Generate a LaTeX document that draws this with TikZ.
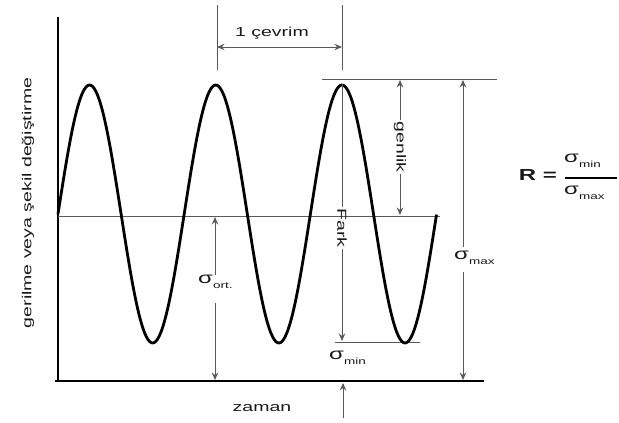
\documentclass[tikz,border=0pt]{standalone}
\usepackage{fontspec}
\setmainfont{Liberation Sans}[FakeStretch=1.5]
\usetikzlibrary{arrows.meta}
\newcommand{\sgm}[1]{{\fontsize{16}{18}\selectfont σ}\raisebox{-0.45em}{\fontsize{9}{10}\selectfont #1}}
\begin{document}
\begin{tikzpicture}[x=1pt,y=-1pt,
  thinline/.style={draw=black!65, line width=1pt},
  arr/.style={thinline,-{Stealth[length=7.5pt,width=6.5pt,inset=2.5pt]}},
  dblarr/.style={thinline,{Stealth[length=7.5pt,width=6.5pt,inset=2.5pt]}-{Stealth[length=7.5pt,width=6.5pt,inset=2.5pt]}},
  axis/.style={line width=2.6pt, draw=black},
  wave/.style={line width=2.8pt, draw=black, line join=round},
  lab/.style={font=\fontsize{13}{15}\selectfont, text=black!90, inner sep=1pt},
  sig/.style={text=black!90, inner sep=1pt}]
\useasboundingbox (0,0) rectangle (619,423);
% axes
\coordinate (Ytop) at (58,17);
\coordinate (O) at (58,381);
\coordinate (Xl) at (55,381);
\coordinate (Xr) at (484,381);
\draw[axis] (Ytop) -- (O);
\draw[axis] (Xl) -- (Xr);
% reference lines
\coordinate (ml) at (58,216);
\coordinate (mr) at (440,216);
\draw[thinline] (ml) -- (mr);
\coordinate (pkl) at (322,79);
\coordinate (pkr) at (497,79);
\draw[thinline] (pkl) -- (pkr);
\coordinate (trl) at (335,342);
\coordinate (trr) at (420,342);
\draw[thinline] (trl) -- (trr);
% wave
\draw[wave] plot[domain=0:3,samples=241,smooth] ({58+126.2*\x},{214-129*sin(360*\x)});
% one cycle
\coordinate (c1t) at (217,5);
\coordinate (c1b) at (217,70);
\coordinate (c2t) at (342,5);
\coordinate (c2b) at (342,70);
\draw[thinline] (c1t) -- (c1b);
\draw[thinline] (c2t) -- (c2b);
\coordinate (c1m) at (217,47);
\coordinate (c2m) at (342,47);
\draw[dblarr] (c1m) -- (c2m);
\node[lab] (cev) at (272,33) {1 çevrim};
% genlik
\node[lab, rotate=-90] (gen) at (400,147) {genlik};
\coordinate (gent) at (400,80);
\coordinate (genb) at (400,215);
\draw[arr] (gen.west) -- (gent);
\draw[arr] (gen.east) -- (genb);
% Fark
\node[lab, rotate=-90] (fark) at (342,228) {Fark};
\coordinate (farkt) at (342,84);
\coordinate (farkb) at (342,341);
\draw[thinline] (fark.west) -- (farkt);
\draw[arr] (fark.east) -- (farkb);
% sigma max
\node[sig, anchor=west] (smax) at (453,258) {\sgm{max}};
\coordinate (smt) at (463,80);
\coordinate (smb) at (463,380);
\coordinate (smg1) at (463,247);
\coordinate (smg2) at (463,272);
\draw[arr] (smg1) -- (smt);
\draw[arr] (smg2) -- (smb);
% sigma ort
\node[sig, anchor=west] (sort) at (197,282) {\sgm{ort.}};
\coordinate (sot) at (215,217);
\coordinate (sob) at (215,380);
\coordinate (sog1) at (215,275);
\coordinate (sog2) at (215,303);
\draw[arr] (sog1) -- (sot);
\draw[arr] (sog2) -- (sob);
% sigma min
\node[sig, anchor=west] (smin) at (328,358) {\sgm{min}};
\coordinate (snb) at (343,418);
\coordinate (snt) at (343,383);
\draw[arr] (snb) -- (snt);
% axis labels
\node[lab] (zaman) at (262,408) {zaman};
\node[lab, rotate=90] (ylab) at (28,203) {gerilme veya şekil değiştirme};
% R formula
\node[text=black!90, inner sep=1pt] (R) at (538,175) {\fontsize{16}{18}\selectfont\bfseries R =};
\coordinate (fbl) at (565,178);
\coordinate (fbr) at (617,178);
\draw[line width=2.8pt, draw=black] (fbl) -- (fbr);
\node[sig, anchor=west] (num) at (563,161) {\sgm{min}};
\node[sig, anchor=west] (den) at (563,193) {\sgm{max}};
\end{tikzpicture}
\end{document}
